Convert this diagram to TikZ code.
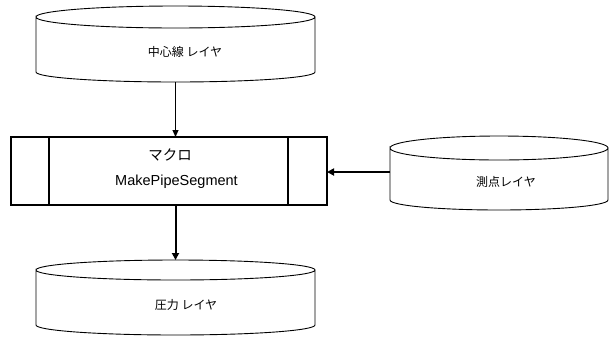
\documentclass[tikz,border=0pt]{standalone}
\usepackage{fontspec}
\setmainfont{Liberation Sans}
\newfontfamily\jp{Noto Sans CJK JP}
\usetikzlibrary{arrows.meta}
\tikzset{
  drumbody/.style={rectangle, inner sep=0pt, outer sep=0pt},
  drumline/.style={draw=black, line width=0.9pt},
  drumlabel/.style={font=\jp\fontsize{12}{14}\selectfont, inner sep=0pt},
  macrobox/.style={draw=black, line width=2pt, rectangle, inner sep=0pt, outer sep=0pt, align=center},
  thinarr/.style={draw=black, line width=1pt, -{Triangle[length=7pt,width=6pt]}},
  thickarr/.style={draw=black, line width=2pt, -{Triangle[length=7pt,width=7pt]}}
}
\newcommand{\drum}[3]{% name, x radius, y radius top
  \draw[drumline] (#1.north west) arc[start angle=180, end angle=-180, x radius=#2, y radius=#3]
    -- (#1.south west) arc[start angle=180, end angle=360, x radius=#2, y radius=10pt]
    -- (#1.north east);
}
\begin{document}
\begin{tikzpicture}[x=1pt,y=1pt]
\useasboundingbox (0,0) rectangle (613,-338);
% top drum
\node[drumbody, minimum width=279pt, minimum height=55pt] (topd) at (175.5,-44.5) {};
\drum{topd}{139.5pt}{11pt}
\node[drumlabel] (toplbl) at (185,-52) {中心線 レイヤ};
% right drum
\node[drumbody, minimum width=218pt, minimum height=52pt] (rightd) at (499,-174) {};
\drum{rightd}{109pt}{12pt}
\node[drumlabel] (rightlbl) at (506,-182) {測点レイヤ};
% bottom drum
\node[drumbody, minimum width=279pt, minimum height=55pt] (botd) at (175.5,-297.5) {};
\drum{botd}{139.5pt}{10pt}
\node[drumlabel] (botlbl) at (186,-305) {圧力 レイヤ};
% macro box
\node[macrobox, minimum width=316pt, minimum height=68pt] (box) at (169,-171) {};
\draw[line width=1.2pt] ([xshift=38pt]box.north west) -- ([xshift=38pt]box.south west);
\draw[line width=1.2pt] ([xshift=-39pt]box.north east) -- ([xshift=-39pt]box.south east);
\node[font=\jp\fontsize{14.5}{16}\selectfont, inner sep=0pt] (boxt1) at (170,-155) {マクロ};
\node[font=\fontsize{14.5}{16}\selectfont, inner sep=0pt] (boxt2) at (176.5,-182) {MakePipeSegment};
% connectors
\coordinate (rin) at ([yshift=2pt]rightd.west);
\draw[thinarr] ([yshift=-10pt]topd.south) -- (topd.south |- box.north);
\draw[thickarr] (box.south -| topd.south) -- ([yshift=10pt]botd.north);
\draw[thickarr] (rin) -- (box.east |- rin);
\end{tikzpicture}
\end{document}
